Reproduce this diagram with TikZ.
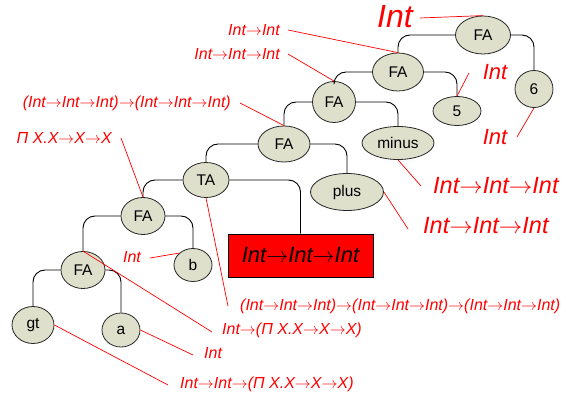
\RequirePackage{fix-cm}
\documentclass[tikz,border=0pt]{standalone}
\usepackage{fontspec}
\setmainfont{Liberation Sans}
\usetikzlibrary{shapes.geometric}
\newcommand{\myar}{\ensuremath{\rightarrow}}
\definecolor{nodefill}{RGB}{222,224,204}
\definecolor{lblred}{RGB}{255,0,0}
\tikzset{
  tn/.style={ellipse, draw=black!85, line width=0.8pt, fill=nodefill, inner sep=0pt, font=\fontsize{15.5}{16}\selectfont},
  br/.style={draw=black, line width=0.9pt, rounded corners=12pt},
  ann/.style={draw=lblred, line width=0.7pt},
  lbl/.style={text=lblred, inner sep=0pt, font=\fontsize{16}{18}\selectfont\itshape},
  lblbig/.style={text=lblred, inner sep=0pt, font=\fontsize{23.5}{26}\selectfont\itshape},
}
\begin{document}
\begin{tikzpicture}[x=1pt,y=-1pt]
\useasboundingbox (0,0) rectangle (574,401);
% tree nodes
\node[tn, minimum width=55pt, minimum height=38pt] (fa1) at (483,35) {FA};
\node[tn, minimum width=38pt, minimum height=37pt] (six) at (534,89) {6};
\node[tn, minimum width=51pt, minimum height=38pt] (fa2) at (398,72) {FA};
\node[tn, minimum width=48pt, minimum height=29pt] (five) at (457,111) {5};
\node[tn, minimum width=43pt, minimum height=41pt] (fa3) at (334,102) {FA};
\node[tn, minimum width=72pt, minimum height=33pt] (minus) at (398,143) {minus};
\node[tn, minimum width=52pt, minimum height=36pt] (fa4) at (284,144) {FA};
\node[tn, minimum width=73pt, minimum height=37pt] (plus) at (347,192) {plus};
\node[tn, minimum width=46pt, minimum height=35pt] (ta) at (206,180) {TA};
\node[tn, minimum width=44pt, minimum height=37pt] (fa5) at (143,216) {FA};
\node[tn, minimum width=38pt, minimum height=33pt] (b) at (193,265) {b};
\node[tn, minimum width=44pt, minimum height=37pt] (fa6) at (83,270) {FA};
\node[tn, minimum width=42pt, minimum height=37pt] (gt) at (33,325) {gt};
\node[tn, minimum width=38pt, minimum height=34pt] (a) at (121,330) {a};
\node[draw=black, line width=0.8pt, fill=lblred, minimum width=145pt, minimum height=43pt, inner sep=0pt,
      font=\fontsize{22}{24}\selectfont\itshape] (res) at (300.5,255.5) {Int\myar Int\myar Int};
% branches
\draw[br] (fa1.west) -| (fa2.north);
\draw[br] (fa1.east) -| (six.north);
\draw[br] (fa2.west) -| (fa3.north);
\draw[br] (fa2.east) -| (five.north);
\draw[br] (fa3.west) -| (fa4.north);
\draw[br] (fa3.east) -| (minus.north);
\draw[br] (fa4.west) -| (ta.north);
\draw[br] (fa4.east) -| (plus.north);
\draw[br] (ta.west) -| (fa5.north);
\draw[br] (ta.east) -| (res.north);
\draw[br] (fa5.west) -| (fa6.north);
\draw[br] (fa5.east) -| (b.north);
\draw[br] (fa6.west) -| (gt.north);
\draw[br] (fa6.east) -| (a.north);
% labels
\node[text=lblred, inner sep=0pt, font=\fontsize{32}{34}\selectfont\itshape] (l1) at (395,17) {Int};
\node[lbl, anchor=east] (l2) at (280,30) {Int\myar Int};
\node[lbl, anchor=east] (l3) at (280,54) {Int\myar Int\myar Int};
\node[lbl, anchor=east] (l4) at (231,103) {(Int\myar Int\myar Int)\myar(Int\myar Int\myar Int)};
\node[lbl, anchor=east] (l5) at (112,138) {Π X.X\myar X\myar X};
\node[text=lblred, inner sep=0pt, font=\fontsize{22}{24}\selectfont\itshape] (l6) at (495,72) {Int};
\node[text=lblred, inner sep=0pt, font=\fontsize{22}{24}\selectfont\itshape] (l7) at (495,137) {Int};
\node[lblbig, anchor=west] (l8) at (433,186) {Int\myar Int\myar Int};
\node[lblbig, anchor=west] (l9) at (423,226) {Int\myar Int\myar Int};
\node[lbl] (l10) at (132,257) {Int};
\node[lbl, anchor=west] (l11) at (240,306) {(Int\myar Int\myar Int)\myar(Int\myar Int\myar Int)\myar(Int\myar Int\myar Int)};
\node[lbl, anchor=west] (l12) at (222,330) {Int\myar(Π X.X\myar X\myar X)};
\node[lbl, anchor=west] (l13) at (204,353) {Int};
\node[lbl, anchor=west] (l14) at (180,384) {Int\myar Int\myar(Π X.X\myar X\myar X)};
% annotation lines
\coordinate (c1) at (420,18);
\coordinate (c2) at (288,30);
\coordinate (c3) at (288,54);
\coordinate (c4) at (240,103);
\coordinate (c5) at (121,138);
\coordinate (c6) at (469,73);
\coordinate (c7) at (517,137);
\coordinate (c8) at (421,186);
\coordinate (c9) at (408,229);
\coordinate (c10) at (150,258);
\coordinate (c11) at (228,306);
\coordinate (c12) at (212,332);
\coordinate (c13) at (193,355);
\coordinate (c14) at (168,385);
\draw[ann] (c1) -- (fa1.north);
\draw[ann] (c2) -- (fa2.north);
\draw[ann] (c3) -- (fa3.north);
\draw[ann] (c4) -- (fa4.north);
\draw[ann] (c5) -- (fa5.north);
\draw[ann] (c6) -- (five.north);
\draw[ann] (c7) -- (six.south);
\draw[ann] (c8) -- (minus.south);
\draw[ann] (c9) -- (plus.east);
\draw[ann] (c10) -- (b.north west);
\draw[ann] (ta.south) -- (c11);
\draw[ann] (fa6.north) -- (c12);
\draw[ann] (a.east) -- (c13);
\draw[ann] (gt.east) -- (c14);
\end{tikzpicture}
\end{document}
